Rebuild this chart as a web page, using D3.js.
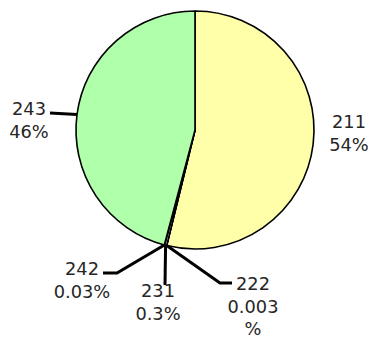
<!DOCTYPE html>
<html>
<head>
<meta charset="utf-8">
<script src="https://cdn.jsdelivr.net/npm/d3@7"></script>
<style>
  html, body { margin: 0; padding: 0; background: #fff; }
  svg { display: block; }
  text { font-family: "DejaVu Sans", Verdana, sans-serif; font-size: 17.8px; fill: #262626; }
</style>
</head>
<body>
<svg id="chart" width="371" height="338"></svg>
<script>
// Slice categories, clockwise from 12 o'clock
const categories = ["211", "222", "231", "242", "243"];
// Share of each category, in percent
const shares = [54, 0.003, 0.3, 0.03, 46];
// Percent text shown under each category name (split where it wraps)
const shareLabels = [["54%"], ["0.003", "%"], ["0.3%"], ["0.03%"], ["46%"]];
const colors = ["#ffffaa", "#ffd0a0", "#c0c0ff", "#ffaaff", "#b0ffaa"];

const width = 371, height = 338;
const cx = 195, cy = 130, radius = 119;

// Label placement: text anchor point and leader-line elbow (relative to the page)
const labelLayout = {
  "211": { text: [349, 128], elbow: null, end: null },
  "222": { text: [253, 290], elbow: [220, 283], end: [232, 283] },
  "231": { text: [158, 297], elbow: null, end: [165, 285] },
  "242": { text: [82, 275], elbow: [117, 273], end: [103, 273] },
  "243": { text: [29, 115], elbow: null, end: [50, 113] }
};

const svg = d3.select("#chart");
const g = svg.append("g").attr("transform", `translate(${cx},${cy})`);

const pie = d3.pie().sort(null).value(d => d.value);
const arcs = pie(categories.map((c, i) => ({ cat: c, value: shares[i], lines: shareLabels[i], color: colors[i] })));
const arc = d3.arc().innerRadius(0).outerRadius(radius);

g.selectAll("path.slice")
  .data(arcs)
  .join("path")
  .attr("class", "slice")
  .attr("d", arc)
  .attr("fill", d => d.data.color)
  .attr("stroke", "#000")
  .attr("stroke-width", 1.6)
  .attr("stroke-linejoin", "round");

// Leader lines start on the rim at each slice's mid-angle
const rim = d => {
  const a = (d.startAngle + d.endAngle) / 2;
  return [cx + radius * Math.sin(a), cy - radius * Math.cos(a)];
};

const lines = svg.append("g");
arcs.forEach(d => {
  const L = labelLayout[d.data.cat];
  if (!L.end) return;
  const pts = [rim(d)];
  if (L.elbow) pts.push(L.elbow);
  pts.push(L.end);
  lines.append("path")
    .attr("d", d3.line()(pts))
    .attr("fill", "none")
    .attr("stroke", "#000")
    .attr("stroke-width", 3);
});

const labels = svg.append("g");
arcs.forEach(d => {
  const L = labelLayout[d.data.cat];
  const t = labels.append("text")
    .attr("x", L.text[0])
    .attr("y", L.text[1])
    .attr("text-anchor", "middle");
  [d.data.cat, ...d.data.lines].forEach((s, i) => {
    t.append("tspan")
      .attr("x", L.text[0])
      .attr("dy", i === 0 ? 0 : 22.5)
      .text(s);
  });
});
</script>
</body>
</html>
